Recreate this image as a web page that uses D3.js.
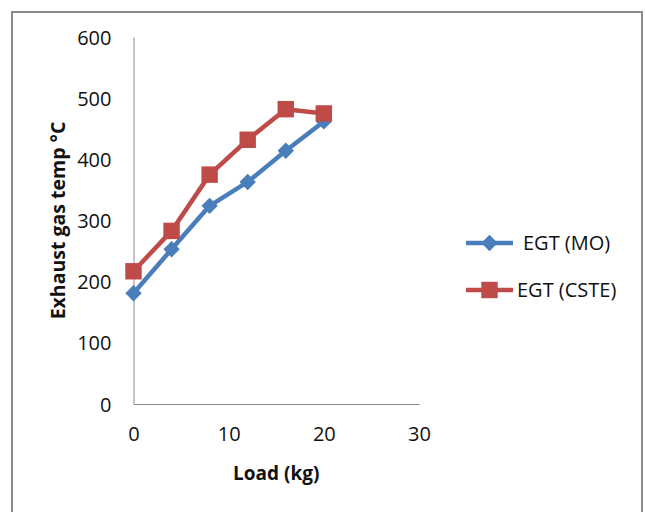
<!DOCTYPE html>
<html>
<head>
<meta charset="utf-8">
<script src="https://cdn.jsdelivr.net/npm/d3@7"></script>
<style>
  html, body { margin: 0; padding: 0; background: #fff; }
  svg { display: block; }
</style>
</head>
<body>
<svg id="chart" width="645" height="512"></svg>
<script>
// Load (kg) and exhaust gas temperature for the two fuels
const loads = [0, 4, 8, 12, 16, 20];
const egtMO = [181, 253, 324, 363, 414, 462];
const egtCSTE = [217, 283, 375, 432, 482, 475];
const xTicks = [0, 10, 20, 30];
const yTicks = [0, 100, 200, 300, 400, 500, 600];
const seriesNames = ["EGT (MO)", "EGT (CSTE)"];
const seriesColors = ["#4A7EBB", "#BE4B48"];

const svg = d3.select("#chart");
const font = "'Open Sans', 'Liberation Sans', sans-serif";

// outer chart frame
svg.append("rect")
  .attr("x", 12).attr("y", 12).attr("width", 630).attr("height", 520)
  .attr("fill", "#fff").attr("stroke", "#8c8c8c").attr("stroke-width", 2);

const x = d3.scaleLinear().domain([0, 30]).range([133.5, 419]);
const y = d3.scaleLinear().domain([0, 600]).range([404, 37]);

// axes: plain gray lines with no tick marks
const xAxis = svg.append("g").attr("transform", `translate(0,${y(0)})`)
  .call(d3.axisBottom(x).tickValues(xTicks).tickSize(0).tickPadding(23));
const yAxis = svg.append("g").attr("transform", `translate(${x(0)},0)`)
  .call(d3.axisLeft(y).tickValues(yTicks).tickSize(0).tickPadding(22));
[xAxis, yAxis].forEach(g => {
  g.select(".domain").attr("stroke", "#8a8a8a").attr("stroke-width", 1);
  g.selectAll("text").attr("font-family", font).attr("font-size", 20).attr("fill", "#111");
});
yAxis.selectAll("text").attr("dy", "0.35em");

// axis titles
svg.append("text")
  .attr("transform", `translate(58,${(y(0) + y(600)) / 2}) rotate(-90)`)
  .attr("text-anchor", "middle").attr("dy", "0.35em")
  .attr("font-family", font).attr("font-size", 19.5).attr("font-weight", "bold")
  .attr("fill", "#111").text("Exhaust gas temp °C");
svg.append("text")
  .attr("x", (x(0) + x(30)) / 2).attr("y", 473)
  .attr("text-anchor", "middle").attr("dy", "0.35em")
  .attr("font-family", font).attr("font-size", 19).attr("font-weight", "bold")
  .attr("fill", "#111").text("Load (kg)");

const series = [egtMO, egtCSTE].map((vals, i) => ({
  name: seriesNames[i], color: seriesColors[i],
  points: loads.map((l, j) => ({ x: l, y: vals[j] }))
}));

const line = d3.line().x(d => x(d.x)).y(d => y(d.y));

const diamond = d3.symbol().type(d3.symbolDiamond2).size(170);
const square = d3.symbol().type(d3.symbolSquare).size(270);
const markers = [diamond, square];

series.forEach((s, i) => {
  svg.append("path").datum(s.points)
    .attr("fill", "none").attr("stroke", s.color).attr("stroke-width", 4.5)
    .attr("stroke-linejoin", "round").attr("d", line);
  svg.append("g").selectAll("path").data(s.points).join("path")
    .attr("transform", d => `translate(${x(d.x)},${y(d.y)})`)
    .attr("d", markers[i]()).attr("fill", s.color);
});

// legend
const legendRows = [243, 290];
series.forEach((s, i) => {
  const g = svg.append("g").attr("transform", `translate(466,${legendRows[i]})`);
  g.append("line").attr("x1", 0).attr("x2", 47).attr("y1", 0).attr("y2", 0)
    .attr("stroke", s.color).attr("stroke-width", 4.5);
  g.append("path").attr("transform", "translate(23.5,0)")
    .attr("d", markers[i]()).attr("fill", s.color);
  g.append("text").attr("x", i === 0 ? 57 : 51).attr("dy", "0.35em")
    .attr("font-family", font).attr("font-size", 20).attr("fill", "#111")
    .text(s.name);
});
</script>
</body>
</html>
